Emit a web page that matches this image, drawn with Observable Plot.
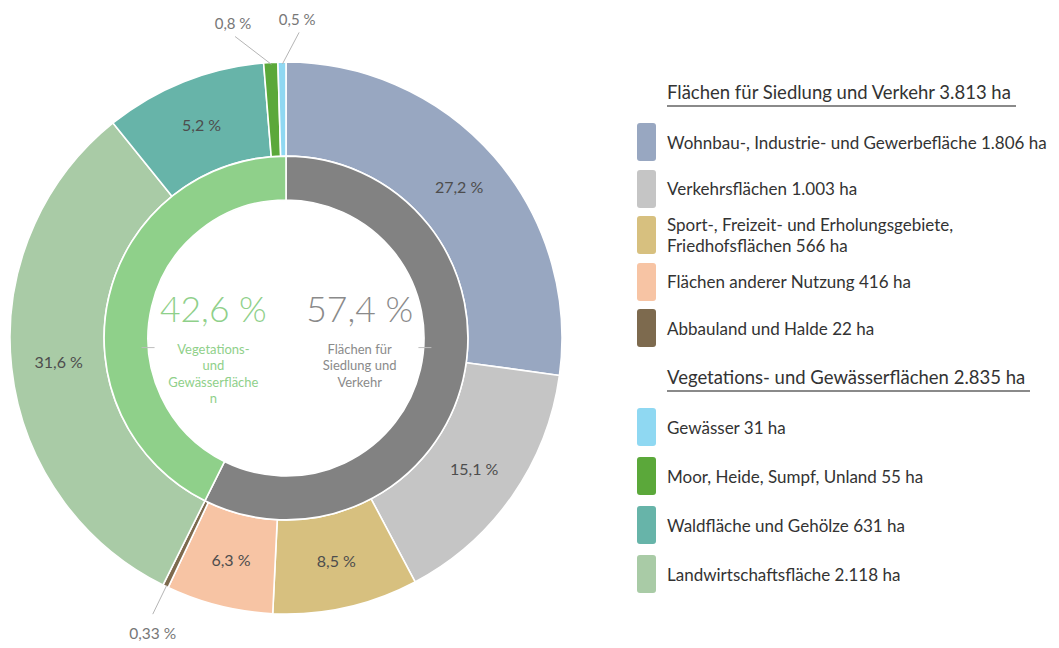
<!DOCTYPE html>
<html><head><meta charset="utf-8">
<script src="https://cdn.jsdelivr.net/npm/d3@7"></script>
<script src="https://cdn.jsdelivr.net/npm/@observablehq/plot@0.6"></script>
<style>
body{margin:0;background:#fff;font-family:Lato,"Open Sans",sans-serif;}
#wrap{position:relative;width:1059px;height:648px;overflow:hidden;}
#chart{position:absolute;left:0;top:0;}
#legend{position:absolute;left:637px;top:80px;width:422px;color:#333;}
.ltitle{display:inline-block;vertical-align:top;margin-left:30px;font-size:18.5px;line-height:24px;padding-bottom:1px;padding-right:5px;border-bottom:2px solid #8a8a8a;white-space:nowrap;color:#333;}
.group{margin-bottom:18px;line-height:0;}
.items{margin-top:16px;line-height:normal;}
.item{height:38px;display:flex;align-items:center;}
.g0 .item{margin-bottom:8.5px;}
.g1 .item{margin-bottom:11px;}
.sw{width:19px;height:38px;border-radius:3px;flex:none;}
.txt{margin-left:11px;font-size:17px;line-height:21px;width:392px;color:#333;}
</style></head><body><div id="wrap"><div id="chart"></div><div id="legend"></div></div>
<script>
// ---- data ----
const categories = ["Wohnbau-, Industrie- und Gewerbefläche", "Verkehrsflächen", "Sport-, Freizeit- und Erholungsgebiete, Friedhofsflächen", "Flächen anderer Nutzung", "Abbauland und Halde", "Landwirtschaftsfläche", "Waldfläche und Gehölze", "Moor, Heide, Sumpf, Unland", "Gewässer"];
const hectares = [1806, 1003, 566, 416, 22, 2118, 631, 55, 31];
const percentLabels = ["27,2 %", "15,1 %", "8,5 %", "6,3 %", "0,33 %", "31,6 %", "5,2 %", "0,8 %", "0,5 %"];
const groupIndex = [0, 0, 0, 0, 0, 1, 1, 1, 1];
const colors = ["#98a7c1", "#c5c5c5", "#d7c07f", "#f7c4a4", "#7d6a4e", "#a9cba6", "#67b4a9", "#5ba83a", "#8fd8f2"];
const groupNames = ["Flächen für Siedlung und Verkehr", "Vegetations- und Gewässerflächen"];
const groupHectares = [3813, 2835];
const groupPercentLabels = ["57,4 %", "42,6 %"];
const groupCenterText = ["Flächen für\nSiedlung und\nVerkehr", "Vegetations-\nund\nGewässerfläche\nn"];
const groupColors = ["#828282", "#8fd08a"];
const groupTextColors = ["#8a8a8a", "#8fd08a"];
const legendOrder = [[0, 1, 2, 3, 4], [8, 7, 6, 5]];

// ---- layout constants ----
const R_OUT = 1, R_MID = 0.659, R_IN = 0.5, R_LABEL = 0.83;
const de = d3.formatLocale({decimal: ",", thousands: ".", grouping: [3], currency: ["", " €"]});
const fmt = de.format(",d");
const deg = Math.PI / 180;

const outer = categories.map((name, i) => ({name, value: hectares[i], label: percentLabels[i], color: colors[i], group: groupIndex[i]}));
const inner = groupNames.map((name, i) => ({name, value: groupHectares[i], label: groupPercentLabels[i], text: groupCenterText[i], color: groupColors[i], tcolor: groupTextColors[i]}));
const total = d3.sum(hectares);
const pie = d3.pie().sort(null).value(d => d.value);
const outerArcs = pie(outer);
const innerArcs = pie(inner);
outerArcs.forEach((a, i) => { a.i = i; a.mid = (a.startAngle + a.endAngle) / 2; a.share = a.data.value / total; });
innerArcs.forEach(a => { a.mid = (a.startAngle + a.endAngle) / 2; a.side = Math.sin(a.mid) >= 0 ? 1 : -1; });

const big = outerArcs.filter(a => a.share >= 0.02);
const small = outerArcs.filter(a => a.share < 0.02);
// spread neighbouring small slices apart so their callouts do not collide
small.forEach(a => {
  const cluster = small.filter(b => Math.abs(b.i - a.i) <= 1);
  a.callAngle = a.mid;
  if (cluster.length > 1) {
    const cm = d3.mean(cluster, b => b.mid);
    a.callAngle = a.mid < cm ? a.mid - 6.5 * deg : a.mid + 3.2 * deg;
  }
});
const R_C0 = 0.995, R_C1 = 1.11;
const px = (r, t) => r * Math.sin(t), py = (r, t) => r * Math.cos(t);

function ring(arcs, r0, r1) {
  return (index, scales) => {
    const cx = scales.x(0), cy = scales.y(0);
    const k = scales.x(1) - scales.x(0);
    const arc = d3.arc().innerRadius(r0 * k).outerRadius(r1 * k);
    const g = d3.create("svg:g").attr("transform", `translate(${cx},${cy})`);
    g.selectAll("path").data(arcs).join("path")
      .attr("d", arc).attr("fill", d => d.data.color)
      .attr("stroke", "#fff").attr("stroke-width", 1.6).attr("stroke-linejoin", "round");
    return g.node();
  };
}

const chart = Plot.plot({
  width: 600, height: 648,
  marginLeft: 10, marginRight: 38, marginTop: 62, marginBottom: 34,
  x: {domain: [-1, 1], axis: null},
  y: {domain: [-1, 1], axis: null},
  style: {fontFamily: "Lato, 'Open Sans', sans-serif", background: "#fff"},
  marks: [
    ring(outerArcs, R_MID, R_OUT),
    ring(innerArcs, R_IN, R_MID),
    Plot.text(big, {x: a => px(R_LABEL, a.mid), y: a => py(R_LABEL, a.mid), text: a => a.data.label, fill: "#4d4d4d", fontSize: 16}),
    Plot.link(small, {x1: a => px(R_C0, a.mid), y1: a => py(R_C0, a.mid), x2: a => px(R_C1, a.callAngle), y2: a => py(R_C1, a.callAngle), stroke: "#b5b5b5", strokeWidth: 1}),
    Plot.text(small.filter(a => Math.cos(a.callAngle) > 0), {x: a => px(R_C1, a.callAngle), y: a => py(R_C1, a.callAngle), text: a => a.data.label, dy: -12, dx: -2, fill: "#777", fontSize: 15}),
    Plot.text(small.filter(a => Math.cos(a.callAngle) <= 0), {x: a => px(R_C1, a.callAngle), y: a => py(R_C1, a.callAngle), text: a => a.data.label, dy: 20, fill: "#777", fontSize: 15.5}),
    Plot.link(innerArcs, {x1: a => a.side * 0.478, x2: a => a.side * 0.525, y1: -0.033, y2: -0.033, stroke: "#bdbdbd", strokeWidth: 1}),
    Plot.text(innerArcs, {x: a => a.side * 0.265, y: 0.1, text: a => a.data.label, fill: a => a.data.tcolor, fontSize: 35.5, fontWeight: 300}),
    Plot.text(innerArcs, {x: a => a.side * 0.265, y: -0.012, text: a => a.data.text, fill: a => a.data.tcolor, fontSize: 13, lineHeight: 1.27, lineAnchor: "top"})
  ]
});
document.getElementById("chart").appendChild(chart);

// ---- legend ----
const legend = d3.select("#legend");
legendOrder.forEach((idxs, g) => {
  const grp = legend.append("div").attr("class", "group g" + g);
  grp.append("div").attr("class", "ltitle").text(`${groupNames[g]} ${fmt(groupHectares[g])} ha`);
  const items = grp.append("div").attr("class", "items");
  idxs.forEach(i => {
    const it = items.append("div").attr("class", "item");
    it.append("div").attr("class", "sw").style("background", colors[i]);
    it.append("div").attr("class", "txt").text(`${categories[i]} ${fmt(hectares[i])} ha`);
  });
});
</script></body></html>
